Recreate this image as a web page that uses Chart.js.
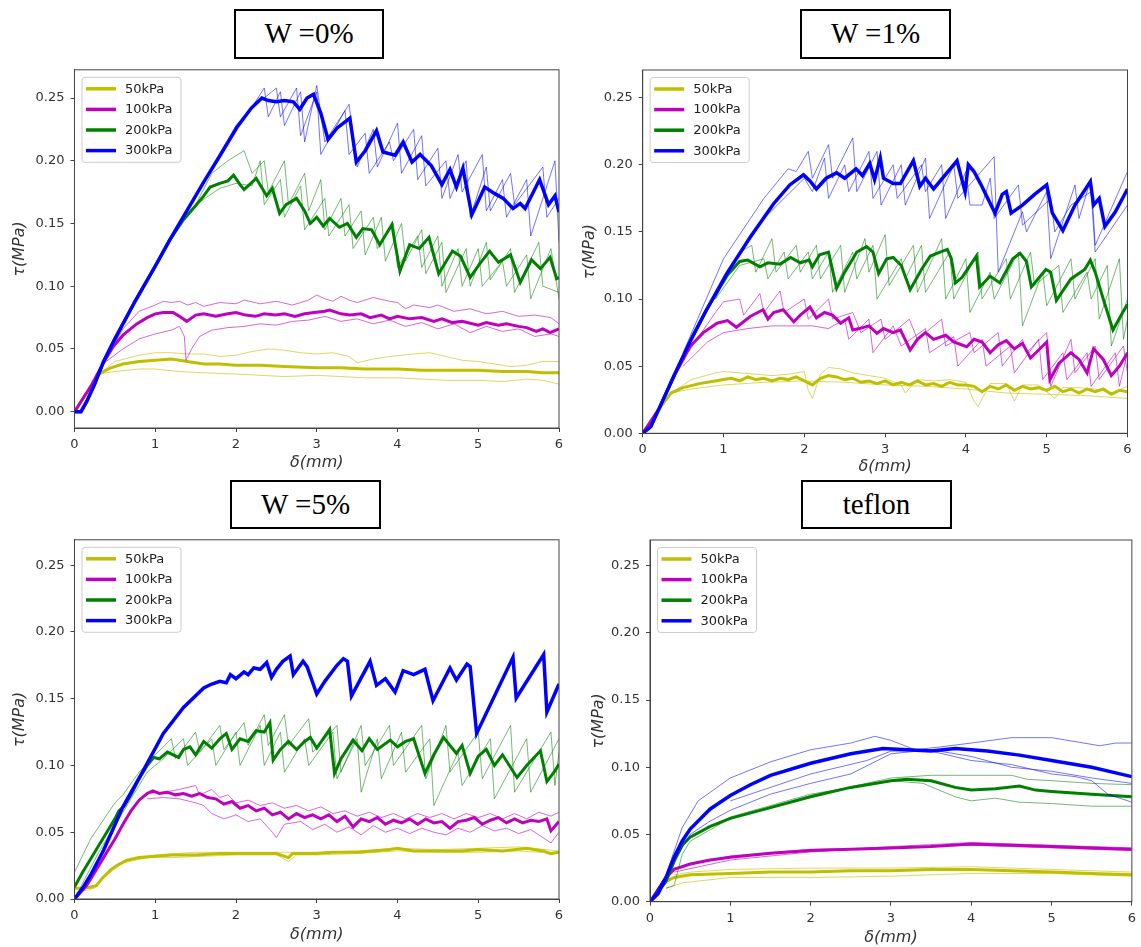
<!DOCTYPE html>
<html><head><meta charset="utf-8">
<script src="https://cdn.jsdelivr.net/npm/chart.js@4.4.1/dist/chart.umd.min.js"></script>
<style>
html,body{margin:0;padding:0;background:#fff;width:1141px;height:947px;overflow:hidden;position:relative}
canvas{position:absolute}
.tbox{position:absolute;box-sizing:border-box;border:2px solid #000;font-family:'Liberation Serif','Times New Roman',serif;font-size:29px;color:#000;background:#fff;text-align:center;padding-top:6px;line-height:32px}
</style></head><body>
<div class="tbox" style="left:234px;top:9px;width:150px;height:50px">W =0%</div>
<div class="tbox" style="left:800px;top:9px;width:151px;height:50px">W =1%</div>
<div class="tbox" style="left:230px;top:480px;width:151px;height:49px">W =5%</div>
<div class="tbox" style="left:801px;top:480px;width:151px;height:49px">teflon</div>
<canvas id="c1" width="570" height="422" style="left:0;top:56px"></canvas>
<canvas id="c2" width="571" height="422" style="left:570px;top:56px"></canvas>
<canvas id="c3" width="570" height="421" style="left:0;top:526px"></canvas>
<canvas id="c4" width="571" height="421" style="left:570px;top:526px"></canvas>
<script>
// ---------- tick labels / categories ----------
const xTicks = [0,1,2,3,4,5,6];
const yTicks = [0,0.05,0.10,0.15,0.20,0.25];
const pressures = ['50kPa','100kPa','200kPa','300kPa'];
const panelTitles = ['W =0%','W =1%','W =5%','teflon'];

// ---------- W = 0% ----------
const w0_50 = [[0,0],[0.1,0.01],[0.2,0.02],[0.3,0.03],[0.45,0.035],[0.6,0.038],[0.8,0.04],[1.0,0.041],[1.2,0.042],[1.4,0.04],[1.6,0.038],[1.8,0.038],[2.0,0.037],[2.3,0.037],[2.6,0.036],[3.0,0.035],[3.3,0.035],[3.6,0.034],[4.0,0.034],[4.3,0.033],[4.6,0.033],[5.0,0.033],[5.3,0.032],[5.6,0.032],[5.8,0.031],[6.0,0.031]];
const w0_50a = [[0.3,0.03],[0.5,0.04],[0.8,0.045],[1.0,0.047],[1.2,0.047],[1.4,0.046],[1.6,0.046],[1.8,0.044],[2.0,0.045],[2.2,0.048],[2.4,0.05],[2.6,0.049],[2.8,0.047],[3.0,0.046],[3.2,0.047],[3.4,0.044],[3.5,0.039],[3.7,0.042],[3.9,0.044],[4.2,0.046],[4.4,0.047],[4.6,0.044],[4.8,0.041],[5.0,0.04],[5.2,0.038],[5.4,0.036],[5.6,0.037],[5.8,0.04],[6.0,0.04]];
const w0_50b = [[0.3,0.03],[0.5,0.032],[0.8,0.034],[1.0,0.034],[1.3,0.032],[1.6,0.031],[2.0,0.03],[2.3,0.029],[2.6,0.028],[3.0,0.029],[3.3,0.028],[3.6,0.027],[4.0,0.027],[4.3,0.026],[4.6,0.025],[5.0,0.025],[5.3,0.024],[5.6,0.026],[5.8,0.025],[6.0,0.022]];
const w0_100 = [[0,0],[0.2,0.02],[0.35,0.038],[0.48,0.052],[0.6,0.061],[0.77,0.07],[0.9,0.075],[1.0,0.078],[1.1,0.079],[1.22,0.079],[1.3,0.076],[1.39,0.072],[1.5,0.077],[1.6,0.078],[1.75,0.076],[1.9,0.078],[2.0,0.079],[2.12,0.077],[2.24,0.076],[2.35,0.078],[2.49,0.077],[2.6,0.078],[2.73,0.076],[2.85,0.078],[2.97,0.079],[3.1,0.08],[3.16,0.081],[3.3,0.078],[3.41,0.077],[3.55,0.078],[3.66,0.075],[3.8,0.077],[3.9,0.074],[4.0,0.076],[4.15,0.074],[4.3,0.075],[4.45,0.072],[4.55,0.074],[4.68,0.071],[4.8,0.072],[5.0,0.069],[5.1,0.071],[5.25,0.069],[5.35,0.07],[5.5,0.068],[5.6,0.067],[5.72,0.064],[5.8,0.066],[5.89,0.063],[6.0,0.066]];
const w0_100a = [[0.35,0.038],[0.6,0.066],[0.8,0.08],[1.0,0.085],[1.1,0.088],[1.2,0.087],[1.3,0.088],[1.4,0.085],[1.5,0.087],[1.6,0.084],[1.8,0.087],[2.0,0.086],[2.1,0.089],[2.3,0.086],[2.5,0.088],[2.7,0.085],[2.9,0.089],[3.0,0.093],[3.1,0.09],[3.2,0.088],[3.3,0.092],[3.4,0.089],[3.5,0.087],[3.7,0.091],[3.9,0.088],[4.0,0.087],[4.1,0.082],[4.2,0.085],[4.4,0.083],[4.5,0.085],[4.7,0.08],[4.9,0.082],[5.1,0.078],[5.3,0.08],[5.5,0.076],[5.7,0.077],[5.9,0.075],[6.0,0.07]];
const w0_100b = [[0.35,0.038],[0.6,0.05],[0.8,0.058],[1.0,0.062],[1.2,0.065],[1.3,0.068],[1.36,0.06],[1.38,0.041],[1.45,0.05],[1.55,0.06],[1.7,0.065],[1.9,0.067],[2.1,0.068],[2.3,0.07],[2.5,0.069],[2.7,0.072],[2.9,0.073],[3.1,0.076],[3.3,0.072],[3.5,0.074],[3.7,0.07],[3.9,0.073],[4.1,0.068],[4.3,0.071],[4.5,0.066],[4.7,0.07],[4.9,0.063],[5.1,0.068],[5.3,0.064],[5.5,0.066],[5.7,0.06],[5.9,0.062],[6.0,0.06]];
const w0_200 = [[0,0],[0.08,0],[0.15,0.008],[0.25,0.022],[0.36,0.04],[0.5,0.058],[0.75,0.088],[1.0,0.116],[1.18,0.137],[1.35,0.153],[1.51,0.165],[1.6,0.172],[1.68,0.179],[1.8,0.182],[1.9,0.184],[1.97,0.1885],[2.05,0.181],[2.1,0.177],[2.25,0.186],[2.38,0.172],[2.45,0.178],[2.54,0.158],[2.62,0.165],[2.75,0.17],[2.85,0.16],[2.92,0.15],[3.0,0.155],[3.08,0.148],[3.16,0.154],[3.28,0.147],[3.38,0.15],[3.49,0.139],[3.57,0.146],[3.68,0.145],[3.78,0.133],[3.93,0.149],[4.03,0.112],[4.15,0.133],[4.27,0.13],[4.39,0.139],[4.51,0.11],[4.68,0.128],[4.78,0.124],[4.9,0.107],[5.02,0.118],[5.14,0.128],[5.25,0.119],[5.4,0.125],[5.52,0.103],[5.66,0.121],[5.77,0.114],[5.89,0.123],[5.97,0.106],[6.0,0.107]];
const w0_200a = [[1.5,0.165],[1.7,0.19],[1.9,0.2],[2.1,0.208],[2.2,0.19],[2.35,0.2],[2.4,0.175],[2.6,0.2],[2.65,0.165],[2.85,0.19],[2.9,0.16],[3.05,0.185],[3.1,0.145],[3.3,0.17],[3.35,0.14],[3.55,0.16],[3.6,0.125],[3.8,0.155],[3.85,0.12],[4.05,0.15],[4.1,0.12],[4.3,0.145],[4.35,0.11],[4.55,0.135],[4.6,0.095],[4.85,0.13],[4.9,0.1],[5.1,0.135],[5.15,0.105],[5.4,0.13],[5.45,0.095],[5.75,0.135],[5.8,0.1],[6.0,0.095]];
const w0_200b = [[1.5,0.165],[1.8,0.178],[2.0,0.182],[2.2,0.18],[2.3,0.2],[2.35,0.165],[2.55,0.185],[2.6,0.155],[2.8,0.18],[2.85,0.145],[3.1,0.17],[3.15,0.14],[3.4,0.165],[3.45,0.13],[3.7,0.155],[3.75,0.13],[3.95,0.15],[4.0,0.115],[4.25,0.14],[4.3,0.115],[4.5,0.14],[4.55,0.1],[4.75,0.13],[4.8,0.1],[5.0,0.13],[5.05,0.1],[5.3,0.12],[5.35,0.1],[5.6,0.125],[5.65,0.09],[5.9,0.13],[6.0,0.09]];
const w0_300 = [[0,0],[0.08,0],[0.15,0.008],[0.25,0.022],[0.36,0.04],[0.5,0.058],[0.75,0.088],[1.0,0.116],[1.18,0.137],[1.4,0.161],[1.6,0.183],[1.8,0.204],[2.01,0.2265],[2.19,0.242],[2.32,0.25],[2.4,0.248],[2.5,0.247],[2.6,0.248],[2.71,0.247],[2.79,0.241],[2.88,0.25],[2.96,0.253],[3.05,0.238],[3.14,0.217],[3.25,0.226],[3.41,0.234],[3.49,0.199],[3.6,0.208],[3.74,0.224],[3.82,0.207],[3.97,0.2045],[4.07,0.215],[4.18,0.199],[4.28,0.205],[4.42,0.196],[4.55,0.181],[4.65,0.193],[4.73,0.179],[4.81,0.194],[4.92,0.157],[5.0,0.168],[5.08,0.179],[5.2,0.174],[5.31,0.17],[5.43,0.162],[5.52,0.166],[5.58,0.162],[5.76,0.185],[5.87,0.165],[5.95,0.172],[6.0,0.159]];
const w0_300a = [[1.5,0.172],[2.0,0.228],[2.2,0.243],[2.35,0.258],[2.4,0.235],[2.55,0.255],[2.6,0.228],[2.8,0.255],[2.85,0.215],[3.0,0.26],[3.1,0.215],[3.4,0.245],[3.5,0.195],[3.7,0.225],[3.75,0.195],[4.0,0.23],[4.05,0.19],[4.3,0.22],[4.35,0.18],[4.6,0.2],[4.65,0.17],[4.85,0.2],[4.9,0.155],[5.1,0.195],[5.15,0.16],[5.4,0.19],[5.45,0.165],[5.8,0.195],[5.85,0.155],[6.0,0.17]];
const w0_300b = [[1.5,0.172],[2.0,0.226],[2.2,0.242],[2.5,0.258],[2.55,0.235],[2.75,0.258],[2.8,0.22],[3.0,0.255],[3.05,0.205],[3.35,0.24],[3.4,0.205],[3.6,0.222],[3.65,0.19],[3.9,0.215],[3.95,0.2],[4.2,0.225],[4.25,0.185],[4.5,0.21],[4.55,0.17],[4.75,0.205],[4.8,0.175],[5.05,0.205],[5.1,0.16],[5.3,0.185],[5.35,0.155],[5.6,0.185],[5.65,0.14],[5.95,0.2],[6.0,0.135]];

// ---------- W = 1% ----------
const w1_50 = [[0,0],[0.2,0.018],[0.35,0.03],[0.5,0.034],[0.7,0.037],[0.9,0.039],[1.0,0.04],[1.1,0.041],[1.2,0.039],[1.3,0.042],[1.4,0.04],[1.5,0.041],[1.6,0.039],[1.7,0.041],[1.8,0.04],[1.9,0.042],[2.0,0.039],[2.1,0.036],[2.2,0.041],[2.3,0.043],[2.4,0.042],[2.5,0.04],[2.6,0.041],[2.7,0.038],[2.8,0.039],[2.9,0.037],[3.0,0.039],[3.1,0.036],[3.2,0.038],[3.3,0.036],[3.4,0.039],[3.5,0.036],[3.6,0.037],[3.7,0.035],[3.8,0.038],[3.9,0.036],[4.0,0.036],[4.1,0.035],[4.2,0.031],[4.3,0.035],[4.4,0.033],[4.5,0.036],[4.6,0.032],[4.7,0.035],[4.8,0.033],[4.9,0.034],[5.0,0.032],[5.1,0.035],[5.2,0.031],[5.3,0.033],[5.4,0.03],[5.5,0.033],[5.6,0.031],[5.7,0.033],[5.8,0.029],[5.9,0.032],[6.0,0.031]];
const w1_50a = [[0.35,0.03],[0.6,0.04],[0.9,0.045],[1.0,0.046],[1.2,0.045],[1.4,0.044],[1.6,0.043],[1.8,0.044],[2.0,0.046],[2.05,0.032],[2.1,0.026],[2.2,0.044],[2.3,0.049],[2.45,0.048],[2.6,0.045],[2.8,0.043],[3.0,0.041],[3.2,0.036],[3.25,0.03],[3.4,0.04],[3.6,0.039],[3.8,0.04],[4.0,0.038],[4.1,0.024],[4.15,0.02],[4.3,0.037],[4.5,0.037],[4.6,0.024],[4.7,0.036],[4.9,0.036],[5.1,0.026],[5.2,0.034],[5.4,0.034],[5.6,0.033],[5.8,0.03],[6.0,0.035]];
const w1_50b = [[0.35,0.03],[0.6,0.033],[1.0,0.036],[1.5,0.038],[2.0,0.039],[2.5,0.038],[3.0,0.036],[3.5,0.035],[4.0,0.033],[4.5,0.03],[5.0,0.029],[5.5,0.028],[6.0,0.026]];
const w1_100 = [[0,0],[0.2,0.018],[0.4,0.044],[0.59,0.065],[0.75,0.075],[0.92,0.082],[1.05,0.084],[1.16,0.079],[1.33,0.087],[1.49,0.092],[1.55,0.085],[1.62,0.09],[1.74,0.092],[1.87,0.083],[1.95,0.088],[2.07,0.094],[2.15,0.086],[2.25,0.09],[2.35,0.088],[2.45,0.082],[2.55,0.086],[2.6,0.077],[2.68,0.078],[2.8,0.08],[2.9,0.0745],[2.98,0.078],[3.1,0.075],[3.19,0.077],[3.31,0.062],[3.4,0.07],[3.5,0.075],[3.6,0.07],[3.75,0.073],[3.85,0.068],[4.01,0.0645],[4.1,0.07],[4.2,0.068],[4.3,0.06],[4.4,0.066],[4.5,0.069],[4.6,0.063],[4.7,0.067],[4.8,0.056],[4.9,0.062],[5.0,0.068],[5.04,0.04],[5.15,0.052],[5.3,0.06],[5.4,0.055],[5.5,0.045],[5.58,0.063],[5.7,0.055],[5.8,0.043],[5.9,0.05],[6.0,0.06]];
const w1_100a = [[0.5,0.055],[0.9,0.09],[1.0,0.098],[1.2,0.1],[1.25,0.088],[1.45,0.104],[1.5,0.09],[1.7,0.106],[1.75,0.09],[2.0,0.1],[2.05,0.085],[2.3,0.1],[2.35,0.085],[2.6,0.09],[2.7,0.075],[2.95,0.085],[3.0,0.07],[3.3,0.085],[3.4,0.07],[3.7,0.085],[3.75,0.065],[4.05,0.075],[4.1,0.06],[4.4,0.075],[4.45,0.05],[4.7,0.07],[4.75,0.06],[5.0,0.075],[5.05,0.035],[5.3,0.07],[5.35,0.045],[5.6,0.065],[5.65,0.04],[5.95,0.065],[6.0,0.045]];
const w1_100b = [[0.5,0.05],[0.8,0.068],[1.0,0.075],[1.3,0.078],[1.6,0.08],[1.9,0.08],[2.1,0.08],[2.3,0.078],[2.5,0.085],[2.55,0.07],[2.8,0.085],[2.85,0.06],[3.1,0.08],[3.2,0.065],[3.5,0.078],[3.55,0.06],[3.85,0.072],[3.9,0.05],[4.2,0.07],[4.25,0.05],[4.55,0.065],[4.6,0.045],[4.9,0.07],[4.95,0.04],[5.2,0.06],[5.25,0.04],[5.5,0.06],[5.55,0.035],[5.85,0.06],[5.9,0.035],[6.0,0.06]];
const w1_200 = [[0,0],[0.1,0.005],[0.2,0.018],[0.38,0.042],[0.6,0.07],[0.79,0.092],[0.95,0.108],[1.05,0.118],[1.2,0.128],[1.3,0.129],[1.45,0.124],[1.55,0.127],[1.7,0.126],[1.83,0.131],[1.95,0.127],[2.06,0.129],[2.1,0.124],[2.19,0.133],[2.3,0.135],[2.4,0.108],[2.5,0.12],[2.65,0.135],[2.77,0.139],[2.85,0.135],[2.92,0.119],[3.02,0.13],[3.1,0.131],[3.2,0.125],[3.31,0.107],[3.45,0.122],[3.56,0.132],[3.68,0.135],[3.77,0.137],[3.82,0.13],[3.87,0.112],[3.95,0.116],[4.13,0.132],[4.17,0.109],[4.3,0.117],[4.42,0.112],[4.58,0.13],[4.67,0.134],[4.75,0.128],[4.81,0.109],[4.99,0.122],[5.05,0.12],[5.12,0.099],[5.3,0.115],[5.47,0.122],[5.54,0.129],[5.6,0.12],[5.7,0.1],[5.82,0.077],[5.95,0.091],[6.0,0.096]];
const w1_200a = [[0.9,0.1],[1.1,0.125],[1.2,0.135],[1.35,0.14],[1.4,0.12],[1.6,0.145],[1.65,0.12],[1.9,0.14],[1.95,0.12],[2.15,0.14],[2.2,0.115],[2.45,0.14],[2.5,0.105],[2.75,0.145],[2.8,0.12],[3.0,0.148],[3.05,0.11],[3.35,0.14],[3.4,0.105],[3.7,0.145],[3.75,0.1],[4.0,0.13],[4.05,0.09],[4.3,0.12],[4.35,0.1],[4.65,0.135],[4.7,0.08],[4.95,0.12],[5.0,0.095],[5.3,0.13],[5.35,0.1],[5.6,0.13],[5.65,0.085],[5.9,0.13],[5.95,0.07],[6.0,0.085]];
const w1_200b = [[0.9,0.1],[1.2,0.125],[1.5,0.13],[1.55,0.115],[1.75,0.135],[1.8,0.115],[2.05,0.135],[2.1,0.115],[2.3,0.135],[2.35,0.105],[2.6,0.135],[2.65,0.115],[2.85,0.14],[2.9,0.1],[3.2,0.13],[3.25,0.115],[3.45,0.14],[3.5,0.105],[3.8,0.135],[3.85,0.1],[4.15,0.135],[4.2,0.1],[4.5,0.13],[4.55,0.1],[4.8,0.135],[4.85,0.11],[5.15,0.125],[5.2,0.09],[5.5,0.12],[5.55,0.1],[5.75,0.125],[5.8,0.065],[6.0,0.1]];
const w1_300 = [[0,0],[0.1,0.005],[0.2,0.018],[0.38,0.042],[0.6,0.07],[0.79,0.092],[1.04,0.119],[1.33,0.146],[1.62,0.171],[1.82,0.185],[1.99,0.1925],[2.07,0.188],[2.15,0.182],[2.27,0.19],[2.4,0.194],[2.5,0.19],[2.64,0.197],[2.72,0.192],[2.81,0.201],[2.87,0.189],[2.94,0.205],[2.98,0.19],[3.1,0.186],[3.19,0.186],[3.35,0.203],[3.43,0.184],[3.5,0.19],[3.6,0.182],[3.89,0.203],[3.99,0.18],[4.03,0.2],[4.1,0.195],[4.18,0.186],[4.36,0.164],[4.45,0.178],[4.5,0.18],[4.56,0.164],[4.7,0.17],[4.85,0.178],[5.0,0.185],[5.07,0.164],[5.2,0.151],[5.35,0.17],[5.54,0.1875],[5.58,0.17],[5.65,0.175],[5.72,0.154],[5.85,0.165],[6.0,0.182]];
const w1_300a = [[0.5,0.06],[1.0,0.13],[1.5,0.175],[1.8,0.197],[1.9,0.195],[2.05,0.21],[2.1,0.19],[2.3,0.215],[2.35,0.19],[2.6,0.22],[2.65,0.18],[2.9,0.21],[2.95,0.17],[3.2,0.2],[3.25,0.17],[3.5,0.205],[3.55,0.16],[3.85,0.2],[3.9,0.175],[4.35,0.206],[4.4,0.12],[4.7,0.165],[4.75,0.15],[5.0,0.18],[5.05,0.13],[5.35,0.185],[5.4,0.16],[5.55,0.19],[5.6,0.14],[6.0,0.195]];
const w1_300b = [[1.0,0.115],[1.5,0.16],[2.0,0.19],[2.1,0.18],[2.25,0.205],[2.3,0.175],[2.5,0.2],[2.55,0.18],[2.8,0.21],[2.85,0.175],[3.1,0.2],[3.15,0.175],[3.45,0.2],[3.5,0.18],[3.7,0.2],[3.75,0.16],[4.0,0.195],[4.05,0.17],[4.2,0.17],[4.3,0.19],[4.35,0.16],[4.65,0.185],[4.7,0.155],[5.05,0.175],[5.1,0.15],[5.3,0.17],[5.55,0.18],[5.6,0.135],[6.0,0.17]];

// ---------- W = 5% ----------
const w5_50 = [[0,0.008],[0.1,0.008],[0.2,0.009],[0.27,0.01],[0.35,0.016],[0.45,0.022],[0.55,0.026],[0.65,0.029],[0.8,0.031],[1.0,0.032],[1.2,0.033],[1.5,0.033],[1.8,0.034],[2.0,0.034],[2.3,0.034],[2.5,0.034],[2.65,0.031],[2.7,0.034],[3.0,0.034],[3.2,0.035],[3.5,0.035],[3.7,0.036],[3.9,0.037],[4.0,0.038],[4.2,0.036],[4.5,0.036],[4.8,0.036],[5.0,0.037],[5.3,0.036],[5.6,0.038],[5.8,0.036],[5.9,0.034],[6.0,0.035]];
const w5_50a = [[0,0.005],[0.2,0.007],[0.3,0.012],[0.5,0.025],[0.7,0.03],[1.0,0.033],[1.5,0.035],[2.0,0.035],[2.5,0.035],[3.0,0.035],[3.5,0.036],[4.0,0.038],[4.5,0.037],[5.0,0.038],[5.5,0.039],[6.0,0.036]];
const w5_50b = [[0,0.008],[0.25,0.008],[0.4,0.018],[0.6,0.027],[0.9,0.031],[1.2,0.031],[1.6,0.032],[2.0,0.033],[2.5,0.033],[2.65,0.028],[2.75,0.033],[3.0,0.033],[3.5,0.034],[4.0,0.036],[4.5,0.035],[5.0,0.035],[5.5,0.036],[6.0,0.034]];
const w5_100 = [[0,0],[0.15,0.01],[0.3,0.025],[0.5,0.045],[0.6,0.056],[0.7,0.066],[0.8,0.074],[0.9,0.079],[0.97,0.081],[1.05,0.079],[1.15,0.08],[1.25,0.078],[1.35,0.079],[1.45,0.077],[1.55,0.079],[1.65,0.076],[1.75,0.075],[1.85,0.071],[1.95,0.073],[2.05,0.068],[2.15,0.07],[2.25,0.066],[2.35,0.068],[2.45,0.063],[2.55,0.065],[2.65,0.06],[2.75,0.064],[2.85,0.061],[2.95,0.063],[3.05,0.06],[3.15,0.063],[3.25,0.058],[3.35,0.062],[3.45,0.054],[3.55,0.06],[3.65,0.058],[3.75,0.061],[3.85,0.056],[3.95,0.059],[4.05,0.057],[4.15,0.06],[4.25,0.056],[4.35,0.06],[4.45,0.057],[4.55,0.058],[4.65,0.053],[4.75,0.058],[4.85,0.059],[4.95,0.061],[5.05,0.056],[5.15,0.059],[5.25,0.061],[5.35,0.057],[5.45,0.06],[5.55,0.057],[5.65,0.059],[5.75,0.058],[5.85,0.06],[5.9,0.051],[6.0,0.058]];
const w5_100a = [[0.9,0.079],[1.1,0.08],[1.3,0.082],[1.5,0.085],[1.55,0.078],[1.7,0.082],[1.8,0.076],[1.9,0.078],[2.0,0.072],[2.15,0.074],[2.3,0.07],[2.45,0.072],[2.6,0.068],[2.75,0.07],[2.9,0.066],[3.05,0.069],[3.2,0.064],[3.35,0.066],[3.5,0.062],[3.65,0.065],[3.8,0.061],[3.95,0.064],[4.1,0.06],[4.25,0.064],[4.4,0.061],[4.55,0.064],[4.7,0.06],[4.85,0.064],[5.0,0.061],[5.15,0.064],[5.3,0.06],[5.45,0.064],[5.6,0.06],[5.75,0.065],[5.9,0.062],[6.0,0.065]];
const w5_100b = [[0.9,0.075],[1.1,0.076],[1.3,0.075],[1.5,0.072],[1.6,0.07],[1.7,0.064],[1.85,0.06],[2.0,0.063],[2.15,0.058],[2.3,0.06],[2.45,0.05],[2.5,0.046],[2.6,0.056],[2.8,0.058],[2.95,0.052],[3.1,0.056],[3.25,0.05],[3.4,0.054],[3.55,0.048],[3.7,0.055],[3.85,0.05],[4.0,0.053],[4.15,0.049],[4.3,0.053],[4.45,0.05],[4.6,0.048],[4.75,0.053],[4.9,0.05],[5.05,0.055],[5.2,0.051],[5.35,0.053],[5.5,0.049],[5.65,0.052],[5.8,0.046],[5.9,0.042],[6.0,0.05]];
const w5_200 = [[0,0.009],[0.1,0.02],[0.2,0.03],[0.3,0.04],[0.4,0.05],[0.5,0.06],[0.55,0.066],[0.62,0.07],[0.7,0.078],[0.8,0.09],[0.9,0.1],[0.98,0.106],[1.05,0.105],[1.15,0.11],[1.29,0.106],[1.35,0.112],[1.43,0.114],[1.5,0.108],[1.6,0.118],[1.7,0.113],[1.8,0.12],[1.88,0.124],[1.95,0.112],[2.05,0.12],[2.15,0.118],[2.25,0.126],[2.35,0.125],[2.42,0.132],[2.46,0.104],[2.55,0.112],[2.65,0.118],[2.75,0.112],[2.85,0.118],[2.92,0.121],[3.0,0.113],[3.16,0.127],[3.22,0.094],[3.3,0.105],[3.45,0.119],[3.56,0.111],[3.65,0.12],[3.75,0.112],[3.91,0.119],[4.0,0.114],[4.1,0.118],[4.2,0.12],[4.34,0.094],[4.45,0.108],[4.57,0.121],[4.65,0.115],[4.73,0.109],[4.8,0.115],[4.9,0.094],[5.0,0.107],[5.1,0.112],[5.2,0.1],[5.3,0.108],[5.48,0.091],[5.6,0.1],[5.77,0.111],[5.85,0.088],[5.95,0.096],[6.0,0.101]];
const w5_200a = [[0,0.02],[0.2,0.045],[0.5,0.072],[0.6,0.078],[0.8,0.095],[1.0,0.108],[1.2,0.12],[1.25,0.105],[1.5,0.125],[1.55,0.11],[1.8,0.13],[1.85,0.112],[2.1,0.132],[2.15,0.115],[2.35,0.138],[2.4,0.115],[2.6,0.138],[2.65,0.115],[2.9,0.135],[2.95,0.11],[3.25,0.13],[3.3,0.095],[3.55,0.13],[3.6,0.1],[3.9,0.13],[3.95,0.1],[4.3,0.13],[4.35,0.09],[4.6,0.13],[4.65,0.095],[5.0,0.125],[5.05,0.09],[5.4,0.13],[5.45,0.08],[5.9,0.125],[5.95,0.085],[6.0,0.11]];
const w5_200b = [[0,0],[0.3,0.035],[0.6,0.065],[0.9,0.095],[1.1,0.105],[1.35,0.12],[1.4,0.1],[1.7,0.12],[1.75,0.1],[2.0,0.125],[2.05,0.1],[2.3,0.13],[2.35,0.1],[2.55,0.125],[2.6,0.095],[2.85,0.12],[2.9,0.1],[3.2,0.125],[3.25,0.09],[3.5,0.12],[3.55,0.08],[3.75,0.12],[3.8,0.09],[4.05,0.125],[4.1,0.095],[4.4,0.12],[4.45,0.07],[4.75,0.11],[4.8,0.085],[5.15,0.12],[5.2,0.075],[5.6,0.12],[5.65,0.08],[6.0,0.12]];
const w5_300 = [[0,0],[0.1,0.008],[0.2,0.018],[0.36,0.0365],[0.6,0.069],[0.85,0.096],[1.1,0.124],[1.35,0.1435],[1.6,0.158],[1.7,0.161],[1.8,0.163],[1.88,0.162],[1.93,0.168],[2.0,0.165],[2.1,0.17],[2.15,0.168],[2.22,0.173],[2.3,0.172],[2.38,0.177],[2.44,0.166],[2.5,0.172],[2.58,0.178],[2.67,0.182],[2.71,0.168],[2.83,0.178],[2.88,0.174],[3.0,0.1535],[3.1,0.163],[3.25,0.175],[3.33,0.18],[3.38,0.178],[3.43,0.152],[3.66,0.178],[3.74,0.16],[3.85,0.165],[3.97,0.155],[4.07,0.171],[4.2,0.168],[4.34,0.172],[4.44,0.1485],[4.65,0.173],[4.73,0.164],[4.86,0.176],[4.9,0.174],[4.98,0.124],[5.43,0.181],[5.47,0.1505],[5.81,0.183],[5.85,0.14],[6.0,0.161]];

// ---------- teflon ----------
const tf_50 = [[0,0],[0.2,0.015],[0.3,0.018],[0.5,0.02],[1.0,0.021],[1.5,0.022],[2.0,0.022],[2.5,0.023],[3.0,0.023],[3.5,0.024],[4.0,0.024],[4.5,0.023],[5.0,0.022],[5.5,0.021],[6.0,0.02]];
const tf_50a = [[0.3,0.02],[0.5,0.022],[1.0,0.024],[2.0,0.025],[3.0,0.025],[4.0,0.026],[5.0,0.024],[6.0,0.022]];
const tf_50b = [[0.2,0.01],[0.4,0.014],[1.0,0.018],[2.0,0.018],[3.0,0.019],[4.0,0.021],[5.0,0.021],[6.0,0.019]];
const tf_100 = [[0,0],[0.2,0.018],[0.3,0.024],[0.5,0.028],[0.75,0.031],[1.0,0.033],[1.5,0.036],[2.0,0.038],[2.5,0.039],[3.0,0.04],[3.5,0.041],[4.0,0.043],[4.5,0.042],[5.0,0.041],[5.5,0.04],[6.0,0.039]];
const tf_100a = [[0.3,0.022],[1.0,0.031],[2.0,0.037],[3.0,0.041],[4.0,0.044],[5.0,0.042],[6.0,0.04]];
const tf_100b = [[0.3,0.025],[1.0,0.034],[2.0,0.039],[3.0,0.04],[4.0,0.042],[5.0,0.04],[6.0,0.038]];
const tf_200 = [[0,0],[0.2,0.015],[0.3,0.03],[0.4,0.042],[0.5,0.048],[0.75,0.056],[1.0,0.062],[1.5,0.07],[2.0,0.078],[2.5,0.085],[3.0,0.09],[3.2,0.091],[3.5,0.09],[3.8,0.085],[4.0,0.083],[4.3,0.084],[4.6,0.086],[4.8,0.083],[5.0,0.082],[5.5,0.08],[6.0,0.078]];
const tf_200a = [[0.2,0.01],[0.3,0.012],[0.4,0.035],[0.5,0.045],[1.0,0.062],[2.0,0.079],[3.0,0.092],[3.5,0.094],[4.0,0.094],[4.5,0.094],[4.7,0.091],[5.0,0.09],[5.5,0.088],[6.0,0.087]];
const tf_200b = [[0.5,0.048],[1.0,0.063],[2.0,0.08],[3.0,0.09],[3.4,0.088],[3.8,0.078],[4.0,0.075],[4.3,0.077],[4.6,0.074],[5.0,0.073],[5.5,0.071],[6.0,0.071]];
const tf_300 = [[0,0],[0.1,0.006],[0.2,0.018],[0.3,0.033],[0.4,0.045],[0.5,0.054],[0.75,0.069],[1.0,0.079],[1.25,0.087],[1.5,0.094],[2.0,0.103],[2.5,0.11],[2.9,0.114],[3.2,0.113],[3.5,0.112],[3.8,0.114],[4.2,0.112],[4.6,0.109],[5.0,0.105],[5.5,0.1],[6.0,0.093]];
const tf_300a = [[0,0],[0.2,0.02],[0.4,0.055],[0.6,0.075],[1.0,0.092],[1.5,0.104],[2.0,0.113],[2.5,0.118],[2.8,0.123],[3.0,0.12],[3.3,0.113],[3.6,0.115],[4.0,0.118],[4.5,0.122],[5.0,0.122],[5.4,0.118],[5.6,0.116],[5.8,0.118],[6.0,0.118]];
const tf_300b = [[0,0],[0.3,0.03],[0.5,0.05],[0.75,0.06],[1.0,0.068],[1.5,0.08],[2.0,0.088],[2.5,0.095],[3.0,0.11],[3.5,0.113],[4.0,0.108],[4.5,0.1],[5.0,0.097],[5.5,0.092],[6.0,0.088]];
const tf_300c = [[1.0,0.075],[2.0,0.095],[2.7,0.105],[3.0,0.112],[3.5,0.112],[4.0,0.105],[4.5,0.102],[5.0,0.095],[5.3,0.093],[5.5,0.09],[5.7,0.08],[6.0,0.074]];

// ---------- assembly ----------
const meanColors = ['#bfbf00','#bf00bf','#008000','#0000ff'];
const thinColors = ['rgba(191,191,0,0.6)','rgba(191,0,191,0.6)','rgba(0,128,0,0.55)','rgba(0,0,255,0.55)'];

const panels = [
  {id:'c1', cl:0, ct:56, cw:570, ch:422, L:74.5, R:559, T:66.7, B:428, ymin:-0.013, ymax:0.2725, xTitle:463, yTitle:20,
   means:[w0_50,w0_100,w0_200,w0_300], reps:[[w0_50a,w0_50b],[w0_100a,w0_100b],[w0_200a,w0_200b],[w0_300a,w0_300b]]},
  {id:'c2', cl:570, ct:56, cw:571, ch:422, L:642.7, R:1127.5, T:70, B:433.3, ymin:0, ymax:0.2706, xTitle:467, yTitle:20,
   means:[w1_50,w1_100,w1_200,w1_300], reps:[[w1_50a,w1_50b],[w1_100a,w1_100b],[w1_200a,w1_200b],[w1_300a,w1_300b]]},
  {id:'c3', cl:0, ct:526, cw:570, ch:421, L:74.5, R:559, T:538.3, B:899, ymin:0, ymax:0.269, xTitle:935, yTitle:20,
   means:[w5_50,w5_100,w5_200,w5_300], reps:[[w5_50a,w5_50b],[w5_100a,w5_100b],[w5_200a,w5_200b],[]]},
  {id:'c4', cl:570, ct:526, cw:571, ch:421, L:650, R:1136, T:540, B:901.7, ymin:0, ymax:0.269, xTitle:938, yTitle:29,
   means:[tf_50,tf_100,tf_200,tf_300], reps:[[tf_50a,tf_50b],[tf_100a,tf_100b],[tf_200a,tf_200b],[tf_300a,tf_300b,tf_300c]]}
];

const toXY = a => a.map(p => ({x:p[0], y:p[1]}));

const framePlugin = {
  id:'frame',
  afterDatasetsDraw(chart){
    const {ctx, chartArea:a} = chart;
    ctx.save();
    ctx.strokeStyle = '#444'; ctx.lineWidth = 1;
    ctx.strokeRect(a.left, a.top, a.right - a.left, a.bottom - a.top);
    // legend
    const bx = a.left + 7.5, by = a.top + 7.5, bw = 99, bh = 85, r = 3;
    ctx.fillStyle = 'rgba(255,255,255,0.85)';
    ctx.strokeStyle = '#cccccc';
    ctx.beginPath();
    ctx.moveTo(bx + r, by); ctx.lineTo(bx + bw - r, by); ctx.arcTo(bx + bw, by, bx + bw, by + r, r);
    ctx.lineTo(bx + bw, by + bh - r); ctx.arcTo(bx + bw, by + bh, bx + bw - r, by + bh, r);
    ctx.lineTo(bx + r, by + bh); ctx.arcTo(bx, by + bh, bx, by + bh - r, r);
    ctx.lineTo(bx, by + r); ctx.arcTo(bx, by, bx + r, by, r);
    ctx.closePath(); ctx.fill(); ctx.stroke();
    ctx.font = '13px "DejaVu Sans"';
    ctx.textBaseline = 'middle';
    pressures.forEach((lab, i) => {
      const yy = by + 11.5 + i * 20.6;
      ctx.strokeStyle = meanColors[i]; ctx.lineWidth = 3.5;
      ctx.beginPath(); ctx.moveTo(bx + 4, yy); ctx.lineTo(bx + 34, yy); ctx.stroke();
      ctx.fillStyle = '#222';
      ctx.fillText(lab, bx + 43, yy + 0.5);
    });
    ctx.restore();
  }
};

panels.forEach(p => {
  const datasets = [];
  for (let k = 0; k < 4; k++) {
    datasets.push({data: toXY(p.means[k]), borderColor: meanColors[k], borderWidth: k === 3 ? 3.5 : 3,
      pointRadius: 0, fill: false, tension: 0, order: (3 - k) * 2});
    p.reps[k].forEach(r => datasets.push({data: toXY(r), borderColor: thinColors[k], borderWidth: 1,
      pointRadius: 0, fill: false, tension: 0, order: (3 - k) * 2 + 1}));
  }
  const fl = 16 * 1.2;
  new Chart(document.getElementById(p.id), {
    type: 'line',
    data: {datasets},
    options: {
      responsive: false, animation: false, events: [],
      layout: {padding: {left: 0, top: p.T - p.ct, right: p.cl + p.cw - p.R, bottom: 0}},
      plugins: {legend: {display: false}, tooltip: {enabled: false}},
      scales: {
        x: {
          type: 'linear', min: 0, max: 6,
          afterBuildTicks: s => { s.ticks = xTicks.map(v => ({value: v})); },
          afterFit: s => { s.height = p.ct + p.ch - p.B; },
          grid: {display: true, drawOnChartArea: false, drawTicks: true, tickLength: 4, color: '#444'},
          border: {display: true, color: '#444', width: 1},
          ticks: {font: {family: 'DejaVu Sans', size: 13}, color: '#333', padding: 5, maxRotation: 0,
            callback: v => String(v)},
          title: {display: true, text: 'δ(mm)', color: '#333',
            font: {family: 'DejaVu Sans', size: 16, style: 'italic'},
            padding: {top: 0, bottom: Math.max(0, p.ct + p.ch - fl / 2 - p.xTitle)}}
        },
        y: {
          type: 'linear', min: p.ymin, max: p.ymax,
          afterBuildTicks: s => { s.ticks = yTicks.map(v => ({value: v})); },
          afterFit: s => { s.width = p.L - p.cl; },
          grid: {display: true, drawOnChartArea: false, drawTicks: true, tickLength: 4, color: '#444'},
          border: {display: true, color: '#444', width: 1},
          ticks: {font: {family: 'DejaVu Sans', size: 13}, color: '#333', padding: 6,
            callback: v => Number(v).toFixed(2)},
          title: {display: true, text: 'τ(MPa)', color: '#333',
            font: {family: 'DejaVu Sans', size: 16, style: 'italic'},
            padding: {top: p.yTitle - fl / 2, bottom: 0}}
        }
      }
    },
    plugins: [framePlugin]
  });
});
</script>
</body></html>
